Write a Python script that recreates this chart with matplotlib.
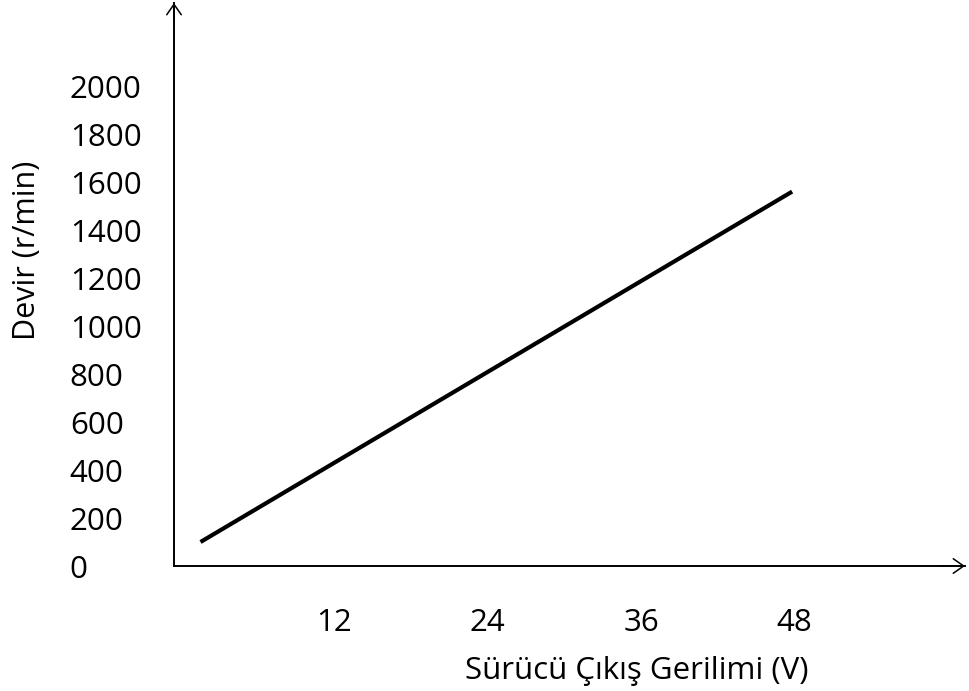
import matplotlib
matplotlib.use("Agg")
import matplotlib.pyplot as plt

# values
voltage = [1.6, 47.8]
speed = [100, 1560]
x_ticks = [12, 24, 36, 48]
y_ticks = [0, 200, 400, 600, 800, 1000, 1200, 1400, 1600, 1800, 2000]

plt.rcParams["font.family"] = ["Open Sans", "DejaVu Sans"]

fig = plt.figure(figsize=(9.69, 6.91), dpi=100)
ax = fig.add_axes([174 / 969, (691 - 566) / 691, (965 - 174) / 969, (566 - 3) / 691])

ax.plot(voltage, speed, color="black", lw=3.0, solid_capstyle="butt")

ax.set_xlim(-0.47, 61.3)
ax.set_ylim(0, 2346)

ax.set_xticks(x_ticks)
ax.set_yticks(y_ticks)
ax.tick_params(axis="both", length=0, labelsize=22.5)
ax.tick_params(axis="y", pad=75)
ax.tick_params(axis="x", pad=30)
for lab in ax.get_yticklabels():
    lab.set_horizontalalignment("left")

for s in ["top", "right"]:
    ax.spines[s].set_visible(False)
for s in ["left", "bottom"]:
    ax.spines[s].set_linewidth(1.4)
    ax.spines[s].set_color("black")

# arrow heads at the ends of the axes
arrow = dict(arrowstyle="->,head_length=0.5,head_width=0.35", mutation_scale=15, lw=1.1, color="black",
             shrinkA=0, shrinkB=0)
ax.annotate("", xy=(0, 1), xytext=(0, 0.97), xycoords="axes fraction", arrowprops=arrow)
ax.annotate("", xy=(1, 0), xytext=(0.97, 0), xycoords="axes fraction", arrowprops=arrow)

fig.text(637 / 969, 1 - 671 / 691, "Sürücü Çıkış Gerilimi (V)", ha="center", va="center", fontsize=22.5)
fig.text(27 / 969, 1 - 250 / 691, "Devir (r/min)", ha="center", va="center", rotation=90, fontsize=22)

fig.savefig("out.png", dpi=100)
